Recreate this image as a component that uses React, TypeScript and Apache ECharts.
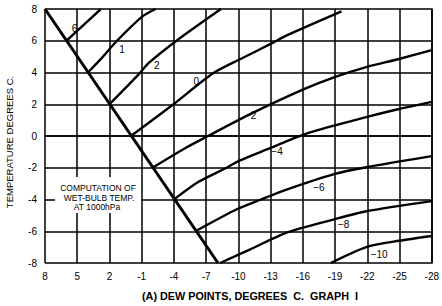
import React, { useEffect, useRef } from "react";
import * as echarts from "echarts";

// x axis: dew point (deg C), drawn decreasing from left to right
const xTickLabels = [8, 5, 2, -1, -4, -7, -10, -13, -16, -19, -22, -25, -28];
const yTickLabels = [8, 6, 4, 2, 0, -2, -4, -6, -8];

// [dew point, temperature]
const saturationLine = [[8, 8], [-8.1, -8]];
const wetBulb6 = [[6, 6], [4.4, 7], [2.8, 8]];
const wetBulb4 = [[4, 4], [2.6, 5], [1.3, 6], [-1.1, 7.55], [-2.3, 8]];
const wetBulb2 = [[2, 2], [-0.74, 3.9], [-1.66, 4.6], [-4.24, 6.0], [-8.1, 7.87], [-8.4, 8]];
const wetBulb0 = [[0, 0], [-3.96, 2], [-7.64, 3.95], [-10.2, 4.85], [-13, 5.8], [-14.55, 6.35], [-19.6, 7.85]];
const wetBulbM2 = [[-2, -2], [-4.88, -0.83], [-7.18, 0], [-10.86, 1.3], [-16.1, 2.95], [-18.96, 3.71], [-21.9, 4.34], [-24.95, 4.85], [-28, 5.41]];
const wetBulbM4 = [[-4, -4], [-6.26, -2.9], [-8.75, -2.05], [-10.1, -1.55], [-13, -0.75], [-15.5, -0.05], [-17.3, 0.35], [-21.9, 1.19], [-24.95, 1.7], [-28, 2.15]];
const wetBulbM6 = [[-6, -6], [-9.9, -4.6], [-12.1, -4], [-14.55, -3.36], [-18.9, -2.4], [-21.9, -1.97], [-28, -1.27]];
const wetBulbM8 = [[-8.3, -8], [-11.1, -7.14], [-14.55, -6.07], [-18.9, -5.25], [-21.9, -4.74], [-28, -4.1]];
const wetBulbM10 = [[-18.6, -8], [-21.9, -7.0], [-24.95, -6.6], [-28, -6.3]];

const curveLabelTexts = ["6", "1", "2", "0", "\u22122", "\u22124", "\u22126", "\u22128", "\u221210"];
const curveLabelPoints = [
  [5.24, 6.8], [0.82, 5.48], [-2.4, 4.47], [-6.08, 3.46], [-11.14, 1.31],
  [-13.6, -0.96], [-17.5, -3.23], [-19.8, -5.56], [-23.1, -7.46],
];

const X_OFFSET = 28; // shifts dew point so the axis minimum is a multiple of the interval
const FONT = "'Liberation Sans', Arial, Helvetica, sans-serif";

const shift = (pts: number[][]) => pts.map(([td, t]) => [td + X_OFFSET, t]);

export default function App() {
  const ref = useRef<HTMLDivElement>(null);
  useEffect(() => {
    if (!ref.current) return;
    const chart = echarts.init(ref.current, null, { renderer: "svg" });
    const curves = [wetBulb6, wetBulb4, wetBulb2, wetBulb0, wetBulbM2, wetBulbM4, wetBulbM6, wetBulbM8, wetBulbM10];
    const xMin = Math.min(...xTickLabels) + X_OFFSET;
    const xMax = Math.max(...xTickLabels) + X_OFFSET;
    const labelData = curveLabelPoints.map(([td, t], i) => [td + X_OFFSET, t, i]);
    chart.setOption({
      animation: false,
      backgroundColor: "#fff",
      grid: { left: 45, right: 6, top: 9, bottom: 43, containLabel: false },
      xAxis: {
        type: "value",
        min: xMin,
        max: xMax,
        interval: 3,
        inverse: true,
        axisLine: { show: true, lineStyle: { color: "#000", width: 1.6 } },
        axisTick: { show: false },
        splitLine: { show: true, lineStyle: { color: "#000", width: 1.5 } },
        axisLabel: {
          color: "#000",
          fontSize: 10,
          fontFamily: FONT,
          margin: 8,
          formatter: (v: number) => String(v - X_OFFSET),
        },
      },
      yAxis: {
        type: "value",
        min: Math.min(...yTickLabels),
        max: Math.max(...yTickLabels),
        interval: 2,
        axisLine: { show: true, lineStyle: { color: "#000", width: 1.6 } },
        axisTick: { show: false },
        splitLine: { show: true, lineStyle: { color: "#000", width: 1.5 } },
        axisLabel: { color: "#000", fontSize: 10, fontFamily: FONT, margin: 8 },
      },
      series: [
        {
          type: "line",
          data: shift(saturationLine),
          symbol: "none",
          lineStyle: { color: "#000", width: 3 },
          z: 3,
        },
        ...curves.map((c) => ({
          type: "line",
          data: shift(c),
          symbol: "none",
          smooth: 0.25,
          lineStyle: { color: "#000", width: 2.4 },
          z: 3,
        })),
        {
          type: "custom",
          data: labelData,
          z: 4,
          silent: true,
          renderItem: (_params: any, api: any) => {
            const pt = api.coord([api.value(0), api.value(1)]);
            const idx = api.value(2);
            return {
              type: "text",
              x: pt[0],
              y: pt[1],
              style: {
                text: curveLabelTexts[idx],
                fill: "#000",
                fontSize: 10,
                fontFamily: FONT,
                textAlign: "center",
                textVerticalAlign: "middle",
              },
            };
          },
        },
      ],
      graphic: [
        {
          type: "rect",
          shape: { x: 55, y: 177, width: 86, height: 36 },
          style: { fill: "#fff" },
          z: 100,
        },
        {
          type: "text",
          x: 98,
          y: 188,
          z: 101,
          style: { text: "COMPUTATION OF", fontSize: 8.5, fontFamily: FONT, fill: "#000", textAlign: "center", textVerticalAlign: "middle" },
        },
        {
          type: "text",
          x: 99,
          y: 198,
          z: 101,
          style: { text: "WET-BULB TEMP.", fontSize: 8.5, fontFamily: FONT, fill: "#000", textAlign: "center", textVerticalAlign: "middle" },
        },
        {
          type: "text",
          x: 97,
          y: 207,
          z: 101,
          style: { text: "AT 1000hPa", fontSize: 8.5, fontFamily: FONT, fill: "#000", textAlign: "center", textVerticalAlign: "middle" },
        },
        {
          type: "text",
          x: 9,
          y: 142,
          rotation: Math.PI / 2,
          style: { text: "TEMPERATURE DEGREES C.", fontSize: 9.5, fontFamily: FONT, fill: "#000", textAlign: "center", textVerticalAlign: "middle" },
        },
        {
          type: "text",
          x: 250,
          y: 296,
          style: { text: "(A) DEW POINTS, DEGREES  C.  GRAPH  I", fontSize: 10.8, fontWeight: "bold", fontFamily: FONT, fill: "#000", textAlign: "center", textVerticalAlign: "middle" },
        },
      ],
    });
    return () => chart.dispose();
  }, []);
  return <div ref={ref} style={{ position: "fixed", left: 0, top: 0, width: 442, height: 306, background: "#fff" }} />;
}
